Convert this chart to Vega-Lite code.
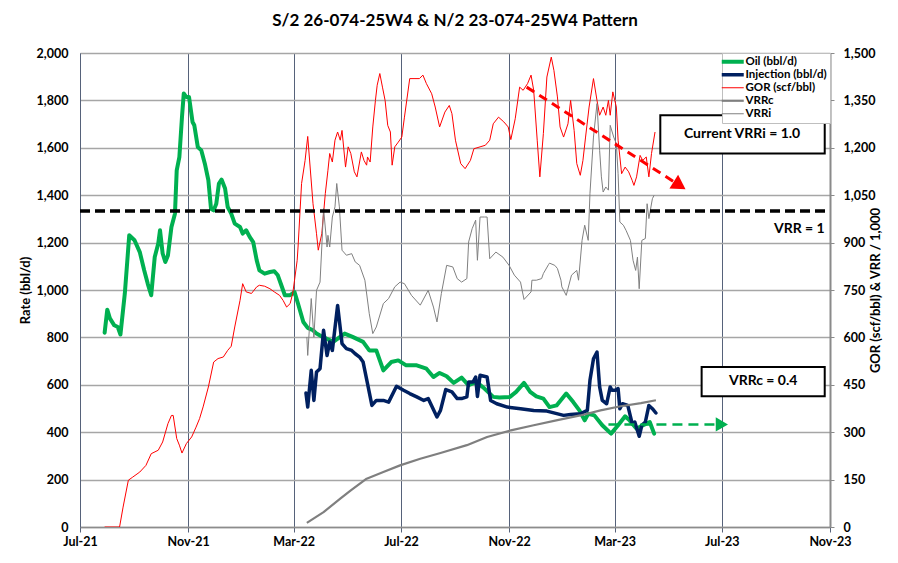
{
  "$schema": "https://vega.github.io/schema/vega-lite/v6.json",
  "width": 750,
  "height": 474,
  "autosize": "none",
  "padding": {"left": 80, "top": 53, "right": 68, "bottom": 36},
  "background": "white",
  "title": {"text": "S/2 26-074-25W4 & N/2 23-074-25W4 Pattern", "font": "Lato", "fontSize": 17, "fontWeight": "bold", "color": "#000000", "anchor": "middle", "frame": "group", "offset": 17},
  "config": {
    "font": "Lato",
    "view": {"stroke": null},
    "axis": {"labelFont": "Lato", "labelFontWeight": "bold", "labelFontSize": 12.5, "labelColor": "#000000", "titleFont": "Lato", "titleFontWeight": "bold", "titleFontSize": 13, "titleColor": "#000000"},
    "legend": {"orient": "none", "legendX": 642, "legendY": 0, "fillColor": "white", "strokeColor": "#bfbfbf", "padding": 3, "labelFont": "Lato", "labelFontWeight": "bold", "labelFontSize": 11.5, "labelColor": "#000000", "symbolType": "M-4.5,0H6.5", "symbolSize": 16, "rowPadding": 0, "labelOffset": 9}
  },
  "datasets": {
    "left": [
      {"s": "Oil (bbl/d)", "d": "2021-07-29", "v": 820},
      {"s": "Oil (bbl/d)", "d": "2021-08-01", "v": 917},
      {"s": "Oil (bbl/d)", "d": "2021-08-04", "v": 880},
      {"s": "Oil (bbl/d)", "d": "2021-08-09", "v": 851},
      {"s": "Oil (bbl/d)", "d": "2021-08-13", "v": 844},
      {"s": "Oil (bbl/d)", "d": "2021-08-16", "v": 812},
      {"s": "Oil (bbl/d)", "d": "2021-08-21", "v": 986},
      {"s": "Oil (bbl/d)", "d": "2021-08-26", "v": 1231},
      {"s": "Oil (bbl/d)", "d": "2021-09-01", "v": 1210},
      {"s": "Oil (bbl/d)", "d": "2021-09-07", "v": 1160},
      {"s": "Oil (bbl/d)", "d": "2021-09-12", "v": 1083},
      {"s": "Oil (bbl/d)", "d": "2021-09-16", "v": 1027},
      {"s": "Oil (bbl/d)", "d": "2021-09-20", "v": 978},
      {"s": "Oil (bbl/d)", "d": "2021-09-24", "v": 1139},
      {"s": "Oil (bbl/d)", "d": "2021-09-28", "v": 1196},
      {"s": "Oil (bbl/d)", "d": "2021-09-30", "v": 1252},
      {"s": "Oil (bbl/d)", "d": "2021-10-03", "v": 1154},
      {"s": "Oil (bbl/d)", "d": "2021-10-06", "v": 1118},
      {"s": "Oil (bbl/d)", "d": "2021-10-09", "v": 1146},
      {"s": "Oil (bbl/d)", "d": "2021-10-13", "v": 1266},
      {"s": "Oil (bbl/d)", "d": "2021-10-17", "v": 1322},
      {"s": "Oil (bbl/d)", "d": "2021-10-19", "v": 1505},
      {"s": "Oil (bbl/d)", "d": "2021-10-22", "v": 1561},
      {"s": "Oil (bbl/d)", "d": "2021-10-25", "v": 1730},
      {"s": "Oil (bbl/d)", "d": "2021-10-27", "v": 1829},
      {"s": "Oil (bbl/d)", "d": "2021-10-30", "v": 1814},
      {"s": "Oil (bbl/d)", "d": "2021-11-02", "v": 1814},
      {"s": "Oil (bbl/d)", "d": "2021-11-06", "v": 1709},
      {"s": "Oil (bbl/d)", "d": "2021-11-08", "v": 1695},
      {"s": "Oil (bbl/d)", "d": "2021-11-12", "v": 1603},
      {"s": "Oil (bbl/d)", "d": "2021-11-16", "v": 1589},
      {"s": "Oil (bbl/d)", "d": "2021-11-20", "v": 1533},
      {"s": "Oil (bbl/d)", "d": "2021-11-24", "v": 1463},
      {"s": "Oil (bbl/d)", "d": "2021-11-27", "v": 1343},
      {"s": "Oil (bbl/d)", "d": "2021-11-30", "v": 1336},
      {"s": "Oil (bbl/d)", "d": "2021-12-03", "v": 1364},
      {"s": "Oil (bbl/d)", "d": "2021-12-06", "v": 1449},
      {"s": "Oil (bbl/d)", "d": "2021-12-09", "v": 1466},
      {"s": "Oil (bbl/d)", "d": "2021-12-13", "v": 1428},
      {"s": "Oil (bbl/d)", "d": "2021-12-16", "v": 1350},
      {"s": "Oil (bbl/d)", "d": "2021-12-20", "v": 1322},
      {"s": "Oil (bbl/d)", "d": "2021-12-24", "v": 1280},
      {"s": "Oil (bbl/d)", "d": "2021-12-30", "v": 1266},
      {"s": "Oil (bbl/d)", "d": "2022-01-02", "v": 1238},
      {"s": "Oil (bbl/d)", "d": "2022-01-06", "v": 1252},
      {"s": "Oil (bbl/d)", "d": "2022-01-10", "v": 1224},
      {"s": "Oil (bbl/d)", "d": "2022-01-14", "v": 1202},
      {"s": "Oil (bbl/d)", "d": "2022-01-18", "v": 1125},
      {"s": "Oil (bbl/d)", "d": "2022-01-21", "v": 1083},
      {"s": "Oil (bbl/d)", "d": "2022-01-27", "v": 1069},
      {"s": "Oil (bbl/d)", "d": "2022-02-02", "v": 1076},
      {"s": "Oil (bbl/d)", "d": "2022-02-07", "v": 1079},
      {"s": "Oil (bbl/d)", "d": "2022-02-11", "v": 1062},
      {"s": "Oil (bbl/d)", "d": "2022-02-15", "v": 1020},
      {"s": "Oil (bbl/d)", "d": "2022-02-19", "v": 978},
      {"s": "Oil (bbl/d)", "d": "2022-02-25", "v": 978},
      {"s": "Oil (bbl/d)", "d": "2022-03-02", "v": 991},
      {"s": "Oil (bbl/d)", "d": "2022-03-06", "v": 942},
      {"s": "Oil (bbl/d)", "d": "2022-03-12", "v": 865},
      {"s": "Oil (bbl/d)", "d": "2022-03-17", "v": 840},
      {"s": "Oil (bbl/d)", "d": "2022-03-23", "v": 830},
      {"s": "Oil (bbl/d)", "d": "2022-03-27", "v": 816},
      {"s": "Oil (bbl/d)", "d": "2022-04-03", "v": 802},
      {"s": "Oil (bbl/d)", "d": "2022-04-15", "v": 781},
      {"s": "Oil (bbl/d)", "d": "2022-04-28", "v": 816},
      {"s": "Oil (bbl/d)", "d": "2022-05-07", "v": 802},
      {"s": "Oil (bbl/d)", "d": "2022-05-19", "v": 781},
      {"s": "Oil (bbl/d)", "d": "2022-05-26", "v": 745},
      {"s": "Oil (bbl/d)", "d": "2022-06-03", "v": 745},
      {"s": "Oil (bbl/d)", "d": "2022-06-11", "v": 661},
      {"s": "Oil (bbl/d)", "d": "2022-06-20", "v": 696},
      {"s": "Oil (bbl/d)", "d": "2022-06-28", "v": 703},
      {"s": "Oil (bbl/d)", "d": "2022-07-07", "v": 682},
      {"s": "Oil (bbl/d)", "d": "2022-07-19", "v": 682},
      {"s": "Oil (bbl/d)", "d": "2022-07-30", "v": 668},
      {"s": "Oil (bbl/d)", "d": "2022-08-07", "v": 633},
      {"s": "Oil (bbl/d)", "d": "2022-08-14", "v": 650},
      {"s": "Oil (bbl/d)", "d": "2022-08-22", "v": 636},
      {"s": "Oil (bbl/d)", "d": "2022-08-30", "v": 608},
      {"s": "Oil (bbl/d)", "d": "2022-09-08", "v": 630},
      {"s": "Oil (bbl/d)", "d": "2022-09-16", "v": 598},
      {"s": "Oil (bbl/d)", "d": "2022-09-25", "v": 612},
      {"s": "Oil (bbl/d)", "d": "2022-10-04", "v": 584},
      {"s": "Oil (bbl/d)", "d": "2022-10-14", "v": 549},
      {"s": "Oil (bbl/d)", "d": "2022-10-21", "v": 546},
      {"s": "Oil (bbl/d)", "d": "2022-11-02", "v": 549},
      {"s": "Oil (bbl/d)", "d": "2022-11-09", "v": 570},
      {"s": "Oil (bbl/d)", "d": "2022-11-18", "v": 608},
      {"s": "Oil (bbl/d)", "d": "2022-11-25", "v": 570},
      {"s": "Oil (bbl/d)", "d": "2022-12-02", "v": 551},
      {"s": "Oil (bbl/d)", "d": "2022-12-10", "v": 542},
      {"s": "Oil (bbl/d)", "d": "2022-12-17", "v": 506},
      {"s": "Oil (bbl/d)", "d": "2022-12-25", "v": 513},
      {"s": "Oil (bbl/d)", "d": "2023-01-05", "v": 563},
      {"s": "Oil (bbl/d)", "d": "2023-01-13", "v": 527},
      {"s": "Oil (bbl/d)", "d": "2023-01-20", "v": 492},
      {"s": "Oil (bbl/d)", "d": "2023-01-26", "v": 450},
      {"s": "Oil (bbl/d)", "d": "2023-01-30", "v": 478},
      {"s": "Oil (bbl/d)", "d": "2023-02-06", "v": 471},
      {"s": "Oil (bbl/d)", "d": "2023-02-15", "v": 429},
      {"s": "Oil (bbl/d)", "d": "2023-02-25", "v": 394},
      {"s": "Oil (bbl/d)", "d": "2023-03-05", "v": 429},
      {"s": "Oil (bbl/d)", "d": "2023-03-13", "v": 467},
      {"s": "Oil (bbl/d)", "d": "2023-03-18", "v": 450},
      {"s": "Oil (bbl/d)", "d": "2023-03-26", "v": 415},
      {"s": "Oil (bbl/d)", "d": "2023-04-02", "v": 429},
      {"s": "Oil (bbl/d)", "d": "2023-04-10", "v": 443},
      {"s": "Oil (bbl/d)", "d": "2023-04-15", "v": 394},
      {"s": "Injection (bbl/d)", "d": "2022-03-15", "v": 565},
      {"s": "Injection (bbl/d)", "d": "2022-03-17", "v": 506},
      {"s": "Injection (bbl/d)", "d": "2022-03-21", "v": 661},
      {"s": "Injection (bbl/d)", "d": "2022-03-24", "v": 534},
      {"s": "Injection (bbl/d)", "d": "2022-03-27", "v": 654},
      {"s": "Injection (bbl/d)", "d": "2022-03-31", "v": 668},
      {"s": "Injection (bbl/d)", "d": "2022-04-04", "v": 830},
      {"s": "Injection (bbl/d)", "d": "2022-04-08", "v": 724},
      {"s": "Injection (bbl/d)", "d": "2022-04-11", "v": 781},
      {"s": "Injection (bbl/d)", "d": "2022-04-14", "v": 745},
      {"s": "Injection (bbl/d)", "d": "2022-04-20", "v": 935},
      {"s": "Injection (bbl/d)", "d": "2022-04-25", "v": 774},
      {"s": "Injection (bbl/d)", "d": "2022-04-30", "v": 753},
      {"s": "Injection (bbl/d)", "d": "2022-05-06", "v": 745},
      {"s": "Injection (bbl/d)", "d": "2022-05-10", "v": 731},
      {"s": "Injection (bbl/d)", "d": "2022-05-15", "v": 717},
      {"s": "Injection (bbl/d)", "d": "2022-05-19", "v": 696},
      {"s": "Injection (bbl/d)", "d": "2022-05-24", "v": 605},
      {"s": "Injection (bbl/d)", "d": "2022-05-29", "v": 513},
      {"s": "Injection (bbl/d)", "d": "2022-06-03", "v": 534},
      {"s": "Injection (bbl/d)", "d": "2022-06-11", "v": 534},
      {"s": "Injection (bbl/d)", "d": "2022-06-17", "v": 527},
      {"s": "Injection (bbl/d)", "d": "2022-06-26", "v": 594},
      {"s": "Injection (bbl/d)", "d": "2022-07-04", "v": 577},
      {"s": "Injection (bbl/d)", "d": "2022-07-11", "v": 563},
      {"s": "Injection (bbl/d)", "d": "2022-07-19", "v": 549},
      {"s": "Injection (bbl/d)", "d": "2022-07-27", "v": 534},
      {"s": "Injection (bbl/d)", "d": "2022-08-01", "v": 542},
      {"s": "Injection (bbl/d)", "d": "2022-08-11", "v": 464},
      {"s": "Injection (bbl/d)", "d": "2022-08-15", "v": 492},
      {"s": "Injection (bbl/d)", "d": "2022-08-21", "v": 580},
      {"s": "Injection (bbl/d)", "d": "2022-08-28", "v": 570},
      {"s": "Injection (bbl/d)", "d": "2022-09-03", "v": 542},
      {"s": "Injection (bbl/d)", "d": "2022-09-08", "v": 542},
      {"s": "Injection (bbl/d)", "d": "2022-09-14", "v": 549},
      {"s": "Injection (bbl/d)", "d": "2022-09-16", "v": 612},
      {"s": "Injection (bbl/d)", "d": "2022-09-21", "v": 612},
      {"s": "Injection (bbl/d)", "d": "2022-09-24", "v": 633},
      {"s": "Injection (bbl/d)", "d": "2022-09-26", "v": 551},
      {"s": "Injection (bbl/d)", "d": "2022-09-29", "v": 640},
      {"s": "Injection (bbl/d)", "d": "2022-10-07", "v": 633},
      {"s": "Injection (bbl/d)", "d": "2022-10-11", "v": 534},
      {"s": "Injection (bbl/d)", "d": "2022-10-18", "v": 520},
      {"s": "Injection (bbl/d)", "d": "2022-10-30", "v": 506},
      {"s": "Injection (bbl/d)", "d": "2022-11-14", "v": 499},
      {"s": "Injection (bbl/d)", "d": "2022-11-29", "v": 492},
      {"s": "Injection (bbl/d)", "d": "2022-12-14", "v": 489},
      {"s": "Injection (bbl/d)", "d": "2023-01-02", "v": 471},
      {"s": "Injection (bbl/d)", "d": "2023-01-10", "v": 475},
      {"s": "Injection (bbl/d)", "d": "2023-01-21", "v": 478},
      {"s": "Injection (bbl/d)", "d": "2023-01-29", "v": 492},
      {"s": "Injection (bbl/d)", "d": "2023-02-01", "v": 619},
      {"s": "Injection (bbl/d)", "d": "2023-02-05", "v": 710},
      {"s": "Injection (bbl/d)", "d": "2023-02-09", "v": 738},
      {"s": "Injection (bbl/d)", "d": "2023-02-12", "v": 591},
      {"s": "Injection (bbl/d)", "d": "2023-02-15", "v": 534},
      {"s": "Injection (bbl/d)", "d": "2023-02-20", "v": 520},
      {"s": "Injection (bbl/d)", "d": "2023-02-24", "v": 591},
      {"s": "Injection (bbl/d)", "d": "2023-02-26", "v": 577},
      {"s": "Injection (bbl/d)", "d": "2023-03-02", "v": 577},
      {"s": "Injection (bbl/d)", "d": "2023-03-05", "v": 584},
      {"s": "Injection (bbl/d)", "d": "2023-03-07", "v": 499},
      {"s": "Injection (bbl/d)", "d": "2023-03-10", "v": 520},
      {"s": "Injection (bbl/d)", "d": "2023-03-16", "v": 513},
      {"s": "Injection (bbl/d)", "d": "2023-03-21", "v": 436},
      {"s": "Injection (bbl/d)", "d": "2023-03-24", "v": 443},
      {"s": "Injection (bbl/d)", "d": "2023-03-29", "v": 383},
      {"s": "Injection (bbl/d)", "d": "2023-04-01", "v": 429},
      {"s": "Injection (bbl/d)", "d": "2023-04-05", "v": 443},
      {"s": "Injection (bbl/d)", "d": "2023-04-09", "v": 513},
      {"s": "Injection (bbl/d)", "d": "2023-04-13", "v": 499},
      {"s": "Injection (bbl/d)", "d": "2023-04-17", "v": 481}
    ],
    "right": [
      {"s": "GOR (scf/bbl)", "d": "2021-07-29", "v": 0},
      {"s": "GOR (scf/bbl)", "d": "2021-08-15", "v": 0},
      {"s": "GOR (scf/bbl)", "d": "2021-08-19", "v": 63},
      {"s": "GOR (scf/bbl)", "d": "2021-08-25", "v": 148},
      {"s": "GOR (scf/bbl)", "d": "2021-08-30", "v": 158},
      {"s": "GOR (scf/bbl)", "d": "2021-09-07", "v": 174},
      {"s": "GOR (scf/bbl)", "d": "2021-09-14", "v": 195},
      {"s": "GOR (scf/bbl)", "d": "2021-09-20", "v": 232},
      {"s": "GOR (scf/bbl)", "d": "2021-09-28", "v": 243},
      {"s": "GOR (scf/bbl)", "d": "2021-10-03", "v": 269},
      {"s": "GOR (scf/bbl)", "d": "2021-10-09", "v": 327},
      {"s": "GOR (scf/bbl)", "d": "2021-10-13", "v": 353},
      {"s": "GOR (scf/bbl)", "d": "2021-10-15", "v": 353},
      {"s": "GOR (scf/bbl)", "d": "2021-10-19", "v": 280},
      {"s": "GOR (scf/bbl)", "d": "2021-10-22", "v": 259},
      {"s": "GOR (scf/bbl)", "d": "2021-10-25", "v": 234},
      {"s": "GOR (scf/bbl)", "d": "2021-10-30", "v": 264},
      {"s": "GOR (scf/bbl)", "d": "2021-11-05", "v": 285},
      {"s": "GOR (scf/bbl)", "d": "2021-11-10", "v": 316},
      {"s": "GOR (scf/bbl)", "d": "2021-11-14", "v": 343},
      {"s": "GOR (scf/bbl)", "d": "2021-11-18", "v": 380},
      {"s": "GOR (scf/bbl)", "d": "2021-11-24", "v": 443},
      {"s": "GOR (scf/bbl)", "d": "2021-11-30", "v": 522},
      {"s": "GOR (scf/bbl)", "d": "2021-12-05", "v": 533},
      {"s": "GOR (scf/bbl)", "d": "2021-12-11", "v": 538},
      {"s": "GOR (scf/bbl)", "d": "2021-12-16", "v": 559},
      {"s": "GOR (scf/bbl)", "d": "2021-12-20", "v": 572},
      {"s": "GOR (scf/bbl)", "d": "2021-12-24", "v": 633},
      {"s": "GOR (scf/bbl)", "d": "2021-12-30", "v": 717},
      {"s": "GOR (scf/bbl)", "d": "2022-01-02", "v": 770},
      {"s": "GOR (scf/bbl)", "d": "2022-01-06", "v": 744},
      {"s": "GOR (scf/bbl)", "d": "2022-01-12", "v": 739},
      {"s": "GOR (scf/bbl)", "d": "2022-01-18", "v": 760},
      {"s": "GOR (scf/bbl)", "d": "2022-01-21", "v": 765},
      {"s": "GOR (scf/bbl)", "d": "2022-01-27", "v": 762},
      {"s": "GOR (scf/bbl)", "d": "2022-02-02", "v": 754},
      {"s": "GOR (scf/bbl)", "d": "2022-02-07", "v": 744},
      {"s": "GOR (scf/bbl)", "d": "2022-02-13", "v": 733},
      {"s": "GOR (scf/bbl)", "d": "2022-02-17", "v": 717},
      {"s": "GOR (scf/bbl)", "d": "2022-02-21", "v": 696},
      {"s": "GOR (scf/bbl)", "d": "2022-02-25", "v": 707},
      {"s": "GOR (scf/bbl)", "d": "2022-02-28", "v": 740},
      {"s": "GOR (scf/bbl)", "d": "2022-03-02", "v": 781},
      {"s": "GOR (scf/bbl)", "d": "2022-03-05", "v": 844},
      {"s": "GOR (scf/bbl)", "d": "2022-03-06", "v": 886},
      {"s": "GOR (scf/bbl)", "d": "2022-03-10", "v": 1087},
      {"s": "GOR (scf/bbl)", "d": "2022-03-14", "v": 1160},
      {"s": "GOR (scf/bbl)", "d": "2022-03-17", "v": 1236},
      {"s": "GOR (scf/bbl)", "d": "2022-03-23", "v": 1023},
      {"s": "GOR (scf/bbl)", "d": "2022-03-27", "v": 928},
      {"s": "GOR (scf/bbl)", "d": "2022-03-29", "v": 876},
      {"s": "GOR (scf/bbl)", "d": "2022-04-02", "v": 928},
      {"s": "GOR (scf/bbl)", "d": "2022-04-06", "v": 1055},
      {"s": "GOR (scf/bbl)", "d": "2022-04-09", "v": 1129},
      {"s": "GOR (scf/bbl)", "d": "2022-04-11", "v": 1182},
      {"s": "GOR (scf/bbl)", "d": "2022-04-14", "v": 1155},
      {"s": "GOR (scf/bbl)", "d": "2022-04-17", "v": 1224},
      {"s": "GOR (scf/bbl)", "d": "2022-04-20", "v": 1250},
      {"s": "GOR (scf/bbl)", "d": "2022-04-23", "v": 1224},
      {"s": "GOR (scf/bbl)", "d": "2022-04-25", "v": 1255},
      {"s": "GOR (scf/bbl)", "d": "2022-04-29", "v": 1139},
      {"s": "GOR (scf/bbl)", "d": "2022-05-02", "v": 1203},
      {"s": "GOR (scf/bbl)", "d": "2022-05-05", "v": 1182},
      {"s": "GOR (scf/bbl)", "d": "2022-05-09", "v": 1124},
      {"s": "GOR (scf/bbl)", "d": "2022-05-12", "v": 1108},
      {"s": "GOR (scf/bbl)", "d": "2022-05-17", "v": 1187},
      {"s": "GOR (scf/bbl)", "d": "2022-05-20", "v": 1160},
      {"s": "GOR (scf/bbl)", "d": "2022-05-23", "v": 1145},
      {"s": "GOR (scf/bbl)", "d": "2022-05-24", "v": 1171},
      {"s": "GOR (scf/bbl)", "d": "2022-05-27", "v": 1155},
      {"s": "GOR (scf/bbl)", "d": "2022-05-30", "v": 1266},
      {"s": "GOR (scf/bbl)", "d": "2022-06-02", "v": 1350},
      {"s": "GOR (scf/bbl)", "d": "2022-06-04", "v": 1398},
      {"s": "GOR (scf/bbl)", "d": "2022-06-07", "v": 1435},
      {"s": "GOR (scf/bbl)", "d": "2022-06-10", "v": 1392},
      {"s": "GOR (scf/bbl)", "d": "2022-06-13", "v": 1350},
      {"s": "GOR (scf/bbl)", "d": "2022-06-16", "v": 1271},
      {"s": "GOR (scf/bbl)", "d": "2022-06-19", "v": 1250},
      {"s": "GOR (scf/bbl)", "d": "2022-06-21", "v": 1145},
      {"s": "GOR (scf/bbl)", "d": "2022-06-24", "v": 1203},
      {"s": "GOR (scf/bbl)", "d": "2022-06-28", "v": 1218},
      {"s": "GOR (scf/bbl)", "d": "2022-07-02", "v": 1234},
      {"s": "GOR (scf/bbl)", "d": "2022-07-05", "v": 1297},
      {"s": "GOR (scf/bbl)", "d": "2022-07-11", "v": 1419},
      {"s": "GOR (scf/bbl)", "d": "2022-07-17", "v": 1419},
      {"s": "GOR (scf/bbl)", "d": "2022-07-22", "v": 1419},
      {"s": "GOR (scf/bbl)", "d": "2022-07-26", "v": 1430},
      {"s": "GOR (scf/bbl)", "d": "2022-07-30", "v": 1403},
      {"s": "GOR (scf/bbl)", "d": "2022-08-05", "v": 1371},
      {"s": "GOR (scf/bbl)", "d": "2022-08-09", "v": 1329},
      {"s": "GOR (scf/bbl)", "d": "2022-08-14", "v": 1266},
      {"s": "GOR (scf/bbl)", "d": "2022-08-20", "v": 1313},
      {"s": "GOR (scf/bbl)", "d": "2022-08-25", "v": 1334},
      {"s": "GOR (scf/bbl)", "d": "2022-08-28", "v": 1308},
      {"s": "GOR (scf/bbl)", "d": "2022-09-01", "v": 1224},
      {"s": "GOR (scf/bbl)", "d": "2022-09-07", "v": 1150},
      {"s": "GOR (scf/bbl)", "d": "2022-09-12", "v": 1134},
      {"s": "GOR (scf/bbl)", "d": "2022-09-18", "v": 1160},
      {"s": "GOR (scf/bbl)", "d": "2022-09-22", "v": 1197},
      {"s": "GOR (scf/bbl)", "d": "2022-09-29", "v": 1203},
      {"s": "GOR (scf/bbl)", "d": "2022-10-05", "v": 1208},
      {"s": "GOR (scf/bbl)", "d": "2022-10-10", "v": 1224},
      {"s": "GOR (scf/bbl)", "d": "2022-10-14", "v": 1276},
      {"s": "GOR (scf/bbl)", "d": "2022-10-20", "v": 1297},
      {"s": "GOR (scf/bbl)", "d": "2022-10-26", "v": 1282},
      {"s": "GOR (scf/bbl)", "d": "2022-10-31", "v": 1266},
      {"s": "GOR (scf/bbl)", "d": "2022-11-03", "v": 1226},
      {"s": "GOR (scf/bbl)", "d": "2022-11-08", "v": 1292},
      {"s": "GOR (scf/bbl)", "d": "2022-11-13", "v": 1392},
      {"s": "GOR (scf/bbl)", "d": "2022-11-17", "v": 1382},
      {"s": "GOR (scf/bbl)", "d": "2022-11-22", "v": 1403},
      {"s": "GOR (scf/bbl)", "d": "2022-11-26", "v": 1430},
      {"s": "GOR (scf/bbl)", "d": "2022-11-29", "v": 1382},
      {"s": "GOR (scf/bbl)", "d": "2022-12-03", "v": 1224},
      {"s": "GOR (scf/bbl)", "d": "2022-12-06", "v": 1108},
      {"s": "GOR (scf/bbl)", "d": "2022-12-10", "v": 1245},
      {"s": "GOR (scf/bbl)", "d": "2022-12-14", "v": 1424},
      {"s": "GOR (scf/bbl)", "d": "2022-12-19", "v": 1487},
      {"s": "GOR (scf/bbl)", "d": "2022-12-22", "v": 1445},
      {"s": "GOR (scf/bbl)", "d": "2022-12-26", "v": 1361},
      {"s": "GOR (scf/bbl)", "d": "2022-12-29", "v": 1266},
      {"s": "GOR (scf/bbl)", "d": "2023-01-02", "v": 1234},
      {"s": "GOR (scf/bbl)", "d": "2023-01-07", "v": 1276},
      {"s": "GOR (scf/bbl)", "d": "2023-01-10", "v": 1350},
      {"s": "GOR (scf/bbl)", "d": "2023-01-14", "v": 1255},
      {"s": "GOR (scf/bbl)", "d": "2023-01-17", "v": 1150},
      {"s": "GOR (scf/bbl)", "d": "2023-01-21", "v": 1113},
      {"s": "GOR (scf/bbl)", "d": "2023-01-24", "v": 1160},
      {"s": "GOR (scf/bbl)", "d": "2023-01-27", "v": 1234},
      {"s": "GOR (scf/bbl)", "d": "2023-01-31", "v": 1329},
      {"s": "GOR (scf/bbl)", "d": "2023-02-05", "v": 1419},
      {"s": "GOR (scf/bbl)", "d": "2023-02-09", "v": 1350},
      {"s": "GOR (scf/bbl)", "d": "2023-02-12", "v": 1303},
      {"s": "GOR (scf/bbl)", "d": "2023-02-16", "v": 1329},
      {"s": "GOR (scf/bbl)", "d": "2023-02-19", "v": 1303},
      {"s": "GOR (scf/bbl)", "d": "2023-02-22", "v": 1350},
      {"s": "GOR (scf/bbl)", "d": "2023-02-24", "v": 1303},
      {"s": "GOR (scf/bbl)", "d": "2023-02-27", "v": 1377},
      {"s": "GOR (scf/bbl)", "d": "2023-03-03", "v": 1329},
      {"s": "GOR (scf/bbl)", "d": "2023-03-05", "v": 1224},
      {"s": "GOR (scf/bbl)", "d": "2023-03-09", "v": 1118},
      {"s": "GOR (scf/bbl)", "d": "2023-03-13", "v": 1139},
      {"s": "GOR (scf/bbl)", "d": "2023-03-17", "v": 1124},
      {"s": "GOR (scf/bbl)", "d": "2023-03-21", "v": 1097},
      {"s": "GOR (scf/bbl)", "d": "2023-03-23", "v": 1081},
      {"s": "GOR (scf/bbl)", "d": "2023-03-26", "v": 1108},
      {"s": "GOR (scf/bbl)", "d": "2023-03-30", "v": 1176},
      {"s": "GOR (scf/bbl)", "d": "2023-04-02", "v": 1160},
      {"s": "GOR (scf/bbl)", "d": "2023-04-06", "v": 1171},
      {"s": "GOR (scf/bbl)", "d": "2023-04-09", "v": 1108},
      {"s": "GOR (scf/bbl)", "d": "2023-04-12", "v": 1182},
      {"s": "GOR (scf/bbl)", "d": "2023-04-16", "v": 1250},
      {"s": "VRRc", "d": "2022-03-16", "v": 13},
      {"s": "VRRc", "d": "2022-04-04", "v": 47},
      {"s": "VRRc", "d": "2022-04-23", "v": 90},
      {"s": "VRRc", "d": "2022-05-05", "v": 116},
      {"s": "VRRc", "d": "2022-05-23", "v": 153},
      {"s": "VRRc", "d": "2022-06-11", "v": 174},
      {"s": "VRRc", "d": "2022-06-30", "v": 195},
      {"s": "VRRc", "d": "2022-07-23", "v": 216},
      {"s": "VRRc", "d": "2022-08-15", "v": 234},
      {"s": "VRRc", "d": "2022-09-14", "v": 259},
      {"s": "VRRc", "d": "2022-10-07", "v": 285},
      {"s": "VRRc", "d": "2022-11-03", "v": 306},
      {"s": "VRRc", "d": "2022-11-29", "v": 322},
      {"s": "VRRc", "d": "2022-12-26", "v": 338},
      {"s": "VRRc", "d": "2023-01-21", "v": 353},
      {"s": "VRRc", "d": "2023-02-13", "v": 369},
      {"s": "VRRc", "d": "2023-03-08", "v": 382},
      {"s": "VRRc", "d": "2023-03-31", "v": 392},
      {"s": "VRRc", "d": "2023-04-17", "v": 401},
      {"s": "VRRi", "d": "2022-03-16", "v": 601},
      {"s": "VRRi", "d": "2022-03-17", "v": 543},
      {"s": "VRRi", "d": "2022-03-21", "v": 723},
      {"s": "VRRi", "d": "2022-03-24", "v": 601},
      {"s": "VRRi", "d": "2022-03-27", "v": 749},
      {"s": "VRRi", "d": "2022-03-31", "v": 775},
      {"s": "VRRi", "d": "2022-04-02", "v": 886},
      {"s": "VRRi", "d": "2022-04-04", "v": 1008},
      {"s": "VRRi", "d": "2022-04-08", "v": 886},
      {"s": "VRRi", "d": "2022-04-09", "v": 923},
      {"s": "VRRi", "d": "2022-04-11", "v": 886},
      {"s": "VRRi", "d": "2022-04-14", "v": 981},
      {"s": "VRRi", "d": "2022-04-17", "v": 1013},
      {"s": "VRRi", "d": "2022-04-19", "v": 1087},
      {"s": "VRRi", "d": "2022-04-22", "v": 1013},
      {"s": "VRRi", "d": "2022-04-25", "v": 876},
      {"s": "VRRi", "d": "2022-04-30", "v": 860},
      {"s": "VRRi", "d": "2022-05-06", "v": 865},
      {"s": "VRRi", "d": "2022-05-10", "v": 839},
      {"s": "VRRi", "d": "2022-05-15", "v": 828},
      {"s": "VRRi", "d": "2022-05-21", "v": 781},
      {"s": "VRRi", "d": "2022-05-26", "v": 675},
      {"s": "VRRi", "d": "2022-05-30", "v": 612},
      {"s": "VRRi", "d": "2022-06-03", "v": 633},
      {"s": "VRRi", "d": "2022-06-11", "v": 707},
      {"s": "VRRi", "d": "2022-06-17", "v": 723},
      {"s": "VRRi", "d": "2022-06-24", "v": 760},
      {"s": "VRRi", "d": "2022-06-30", "v": 775},
      {"s": "VRRi", "d": "2022-07-05", "v": 770},
      {"s": "VRRi", "d": "2022-07-13", "v": 733},
      {"s": "VRRi", "d": "2022-07-23", "v": 702},
      {"s": "VRRi", "d": "2022-08-01", "v": 749},
      {"s": "VRRi", "d": "2022-08-07", "v": 696},
      {"s": "VRRi", "d": "2022-08-11", "v": 649},
      {"s": "VRRi", "d": "2022-08-16", "v": 739},
      {"s": "VRRi", "d": "2022-08-22", "v": 828},
      {"s": "VRRi", "d": "2022-08-29", "v": 823},
      {"s": "VRRi", "d": "2022-09-03", "v": 786},
      {"s": "VRRi", "d": "2022-09-08", "v": 775},
      {"s": "VRRi", "d": "2022-09-14", "v": 786},
      {"s": "VRRi", "d": "2022-09-16", "v": 902},
      {"s": "VRRi", "d": "2022-09-20", "v": 944},
      {"s": "VRRi", "d": "2022-09-24", "v": 971},
      {"s": "VRRi", "d": "2022-09-26", "v": 844},
      {"s": "VRRi", "d": "2022-09-29", "v": 981},
      {"s": "VRRi", "d": "2022-10-04", "v": 981},
      {"s": "VRRi", "d": "2022-10-07", "v": 981},
      {"s": "VRRi", "d": "2022-10-10", "v": 849},
      {"s": "VRRi", "d": "2022-10-17", "v": 870},
      {"s": "VRRi", "d": "2022-10-25", "v": 854},
      {"s": "VRRi", "d": "2022-11-01", "v": 828},
      {"s": "VRRi", "d": "2022-11-07", "v": 797},
      {"s": "VRRi", "d": "2022-11-14", "v": 775},
      {"s": "VRRi", "d": "2022-11-18", "v": 720},
      {"s": "VRRi", "d": "2022-11-26", "v": 744},
      {"s": "VRRi", "d": "2022-11-27", "v": 781},
      {"s": "VRRi", "d": "2022-12-02", "v": 781},
      {"s": "VRRi", "d": "2022-12-08", "v": 786},
      {"s": "VRRi", "d": "2022-12-10", "v": 802},
      {"s": "VRRi", "d": "2022-12-16", "v": 831},
      {"s": "VRRi", "d": "2022-12-17", "v": 835},
      {"s": "VRRi", "d": "2022-12-23", "v": 828},
      {"s": "VRRi", "d": "2022-12-26", "v": 818},
      {"s": "VRRi", "d": "2022-12-30", "v": 781},
      {"s": "VRRi", "d": "2022-12-31", "v": 760},
      {"s": "VRRi", "d": "2023-01-05", "v": 733},
      {"s": "VRRi", "d": "2023-01-11", "v": 797},
      {"s": "VRRi", "d": "2023-01-17", "v": 812},
      {"s": "VRRi", "d": "2023-01-19", "v": 781},
      {"s": "VRRi", "d": "2023-01-23", "v": 907},
      {"s": "VRRi", "d": "2023-01-26", "v": 955},
      {"s": "VRRi", "d": "2023-01-30", "v": 907},
      {"s": "VRRi", "d": "2023-02-01", "v": 1055},
      {"s": "VRRi", "d": "2023-02-05", "v": 1234},
      {"s": "VRRi", "d": "2023-02-09", "v": 1340},
      {"s": "VRRi", "d": "2023-02-12", "v": 1192},
      {"s": "VRRi", "d": "2023-02-14", "v": 1108},
      {"s": "VRRi", "d": "2023-02-16", "v": 1060},
      {"s": "VRRi", "d": "2023-02-19", "v": 1076},
      {"s": "VRRi", "d": "2023-02-22", "v": 1066},
      {"s": "VRRi", "d": "2023-02-24", "v": 1271},
      {"s": "VRRi", "d": "2023-02-28", "v": 1234},
      {"s": "VRRi", "d": "2023-03-03", "v": 1213},
      {"s": "VRRi", "d": "2023-03-05", "v": 1118},
      {"s": "VRRi", "d": "2023-03-07", "v": 965},
      {"s": "VRRi", "d": "2023-03-11", "v": 955},
      {"s": "VRRi", "d": "2023-03-14", "v": 939},
      {"s": "VRRi", "d": "2023-03-19", "v": 907},
      {"s": "VRRi", "d": "2023-03-22", "v": 844},
      {"s": "VRRi", "d": "2023-03-25", "v": 812},
      {"s": "VRRi", "d": "2023-03-27", "v": 854},
      {"s": "VRRi", "d": "2023-03-29", "v": 754},
      {"s": "VRRi", "d": "2023-04-01", "v": 907},
      {"s": "VRRi", "d": "2023-04-05", "v": 913},
      {"s": "VRRi", "d": "2023-04-07", "v": 1023},
      {"s": "VRRi", "d": "2023-04-09", "v": 976},
      {"s": "VRRi", "d": "2023-04-13", "v": 1039},
      {"s": "VRRi", "d": "2023-04-15", "v": 1050}
    ]
  },
  "layer": [
    {
      "layer": [
        {
          "data": {"name": "left"},
          "mark": {"type": "line", "strokeJoin": "round", "strokeCap": "round", "clip": true},
          "encoding": {
            "x": {"field": "d", "type": "temporal", "scale": {"type": "utc", "domain": [{"year": 2021, "month": 7, "date": 1, "utc": true}, {"year": 2023, "month": 11, "date": 1, "utc": true}]}, "axis": {"title": null, "values": [{"year": 2021, "month": 7, "date": 1, "utc": true}, {"year": 2021, "month": 11, "date": 1, "utc": true}, {"year": 2022, "month": 3, "date": 1, "utc": true}, {"year": 2022, "month": 7, "date": 1, "utc": true}, {"year": 2022, "month": 11, "date": 1, "utc": true}, {"year": 2023, "month": 3, "date": 1, "utc": true}, {"year": 2023, "month": 7, "date": 1, "utc": true}, {"year": 2023, "month": 11, "date": 1, "utc": true}], "format": "%b-%y", "grid": true, "gridColor": "#56627a", "gridWidth": 1, "domainColor": "#8c8c8c", "domainWidth": 1.3, "tickColor": "#56627a", "tickSize": 5, "labelPadding": 3, "labelFlush": false, "labelOverlap": false}},
            "y": {"field": "v", "type": "quantitative", "scale": {"domain": [0, 2000], "nice": false}, "axis": {"title": "Rate (bbl/d)", "orient": "left", "values": [0, 200, 400, 600, 800, 1000, 1200, 1400, 1600, 1800, 2000], "format": ",.0f", "grid": true, "gridColor": "#a6a6a6", "gridWidth": 1.3, "ticks": false, "labelPadding": 12, "domainColor": "#56627a", "titlePadding": 4}},
            "color": {"field": "s", "type": "nominal", "title": null, "scale": {"domain": ["Oil (bbl/d)", "Injection (bbl/d)", "GOR (scf/bbl)", "VRRc", "VRRi"], "range": ["#00b050", "#002060", "#ff0000", "#7f7f7f", "#808080"]}, "legend": {"encode": {"symbols": {"update": {"strokeJoin": {"value": "round"}}}}}},
            "strokeWidth": {"field": "s", "type": "nominal", "title": null, "scale": {"type": "ordinal", "domain": ["Oil (bbl/d)", "Injection (bbl/d)", "GOR (scf/bbl)", "VRRc", "VRRi"], "range": [4, 3.5, 1, 2.2, 1]}, "legend": {"encode": {"symbols": {"update": {"strokeJoin": {"value": "round"}}}}}}
          }
        },
        {
          "data": {"values": [{"d": "2023-02-22", "v": 433}, {"d": "2023-06-28", "v": 433}]},
          "mark": {"type": "line", "color": "#00b050", "strokeWidth": 2.5, "strokeDash": [10, 6]},
          "encoding": {
            "x": {"field": "d", "type": "temporal"},
            "y": {"field": "v", "type": "quantitative", "scale": {"domain": [0, 2000], "nice": false}}
          }
        },
        {
          "data": {"values": [{"d": "2023-07-01", "v": 433}]},
          "mark": {"type": "point", "shape": "triangle-right", "filled": true, "color": "#00b050", "opacity": 1, "size": 200},
          "encoding": {
            "x": {"field": "d", "type": "temporal"},
            "y": {"field": "v", "type": "quantitative", "scale": {"domain": [0, 2000], "nice": false}}
          }
        }
      ]
    },
    {
      "layer": [
        {
          "data": {"name": "right"},
          "mark": {"type": "line", "strokeJoin": "round", "clip": true},
          "encoding": {
            "x": {"field": "d", "type": "temporal"},
            "y": {"field": "v", "type": "quantitative", "scale": {"domain": [0, 1500], "nice": false}, "axis": {"title": "GOR (scf/bbl) & VRR / 1,000", "orient": "right", "values": [0, 150, 300, 450, 600, 750, 900, 1050, 1200, 1350, 1500], "format": ",.0f", "grid": false, "tickSize": 4, "tickColor": "#8a8a8a", "domainColor": "#8a8a8a", "domainWidth": 2, "labelPadding": 9, "titleAngle": 270, "titlePadding": 8}},
            "color": {"field": "s", "type": "nominal", "title": null, "scale": {"domain": ["Oil (bbl/d)", "Injection (bbl/d)", "GOR (scf/bbl)", "VRRc", "VRRi"], "range": ["#00b050", "#002060", "#ff0000", "#7f7f7f", "#808080"]}, "legend": {"encode": {"symbols": {"update": {"strokeJoin": {"value": "round"}}}}}},
            "strokeWidth": {"field": "s", "type": "nominal", "title": null, "scale": {"type": "ordinal", "domain": ["Oil (bbl/d)", "Injection (bbl/d)", "GOR (scf/bbl)", "VRRc", "VRRi"], "range": [4, 3.5, 1, 2.2, 1]}, "legend": {"encode": {"symbols": {"update": {"strokeJoin": {"value": "round"}}}}}}
          }
        },
        {
          "data": {"values": [{"d": "2021-07-01", "d2": "2023-11-01", "v": 1000}]},
          "mark": {"type": "rule", "color": "#000000", "strokeWidth": 3.5, "strokeDash": [10, 5]},
          "encoding": {
            "x": {"field": "d", "type": "temporal"},
            "x2": {"field": "d2"},
            "y": {"field": "v", "type": "quantitative", "scale": {"domain": [0, 1500], "nice": false}}
          }
        },
        {
          "data": {"values": [{"d": "2022-11-21", "v": 1392}, {"d": "2023-05-14", "v": 1081}]},
          "mark": {"type": "line", "color": "#ff0000", "strokeWidth": 3, "strokeDash": [9, 6]},
          "encoding": {
            "x": {"field": "d", "type": "temporal"},
            "y": {"field": "v", "type": "quantitative", "scale": {"domain": [0, 1500], "nice": false}}
          }
        },
        {
          "data": {"values": [{"d": "2023-05-14", "v": 1081}]},
          "mark": {"type": "point", "shape": "triangle-right", "filled": true, "color": "#ff0000", "opacity": 1, "size": 260, "angle": 32.7},
          "encoding": {
            "x": {"field": "d", "type": "temporal"},
            "y": {"field": "v", "type": "quantitative", "scale": {"domain": [0, 1500], "nice": false}}
          }
        },
        {
          "data": {"values": [{"d": "2023-04-22", "d2": "2023-10-26", "v": 1182, "v2": 1303}, {"d": "2023-06-08", "d2": "2023-10-26", "v": 414, "v2": 506}]},
          "mark": {"type": "rect", "fill": "white", "stroke": "#000000", "strokeWidth": 2},
          "encoding": {
            "x": {"field": "d", "type": "temporal"},
            "x2": {"field": "d2"},
            "y": {"field": "v", "type": "quantitative", "scale": {"domain": [0, 1500], "nice": false}},
            "y2": {"field": "v2"}
          }
        },
        {
          "data": {"values": [{"d": "2023-07-24", "v": 1243, "t": "Current VRRi = 1.0"}, {"d": "2023-08-17", "v": 461, "t": "VRRc = 0.4"}]},
          "mark": {"type": "text", "font": "Lato", "fontWeight": "bold", "fontSize": 14, "color": "#000000", "align": "center", "baseline": "middle"},
          "encoding": {
            "x": {"field": "d", "type": "temporal"},
            "y": {"field": "v", "type": "quantitative", "scale": {"domain": [0, 1500], "nice": false}},
            "text": {"field": "t"}
          }
        },
        {
          "data": {"values": [{"d": "2023-10-26", "v": 943, "t": "VRR = 1"}]},
          "mark": {"type": "text", "font": "Lato", "fontWeight": "bold", "fontSize": 14, "color": "#000000", "align": "right", "baseline": "middle"},
          "encoding": {
            "x": {"field": "d", "type": "temporal"},
            "y": {"field": "v", "type": "quantitative", "scale": {"domain": [0, 1500], "nice": false}},
            "text": {"field": "t"}
          }
        }
      ]
    }
  ],
  "resolve": {"scale": {"y": "independent"}, "axis": {"y": "independent"}}
}
